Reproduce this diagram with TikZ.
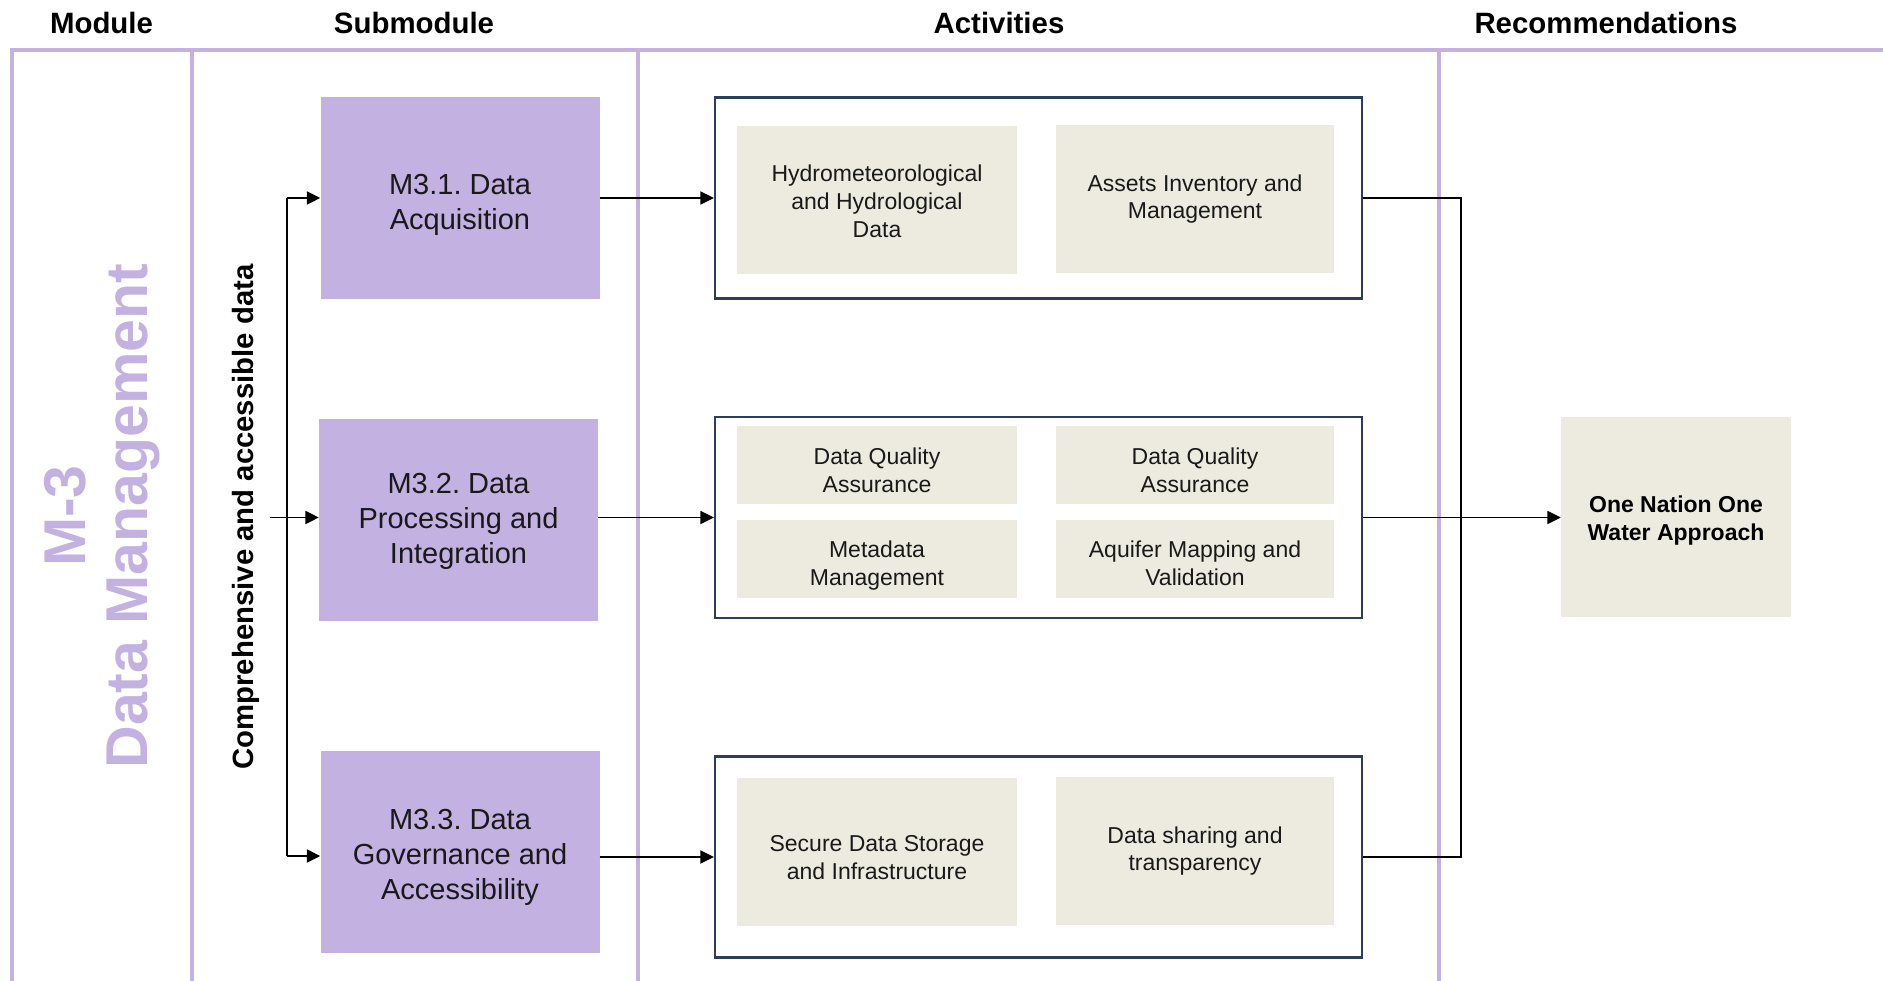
\documentclass[tikz,border=0pt]{standalone}
\usepackage{fontspec}
\setmainfont{Liberation Sans}
\frenchspacing
\usetikzlibrary{arrows.meta}
\definecolor{lav}{HTML}{C3B1E1}
\definecolor{beige}{HTML}{EDEBE0}
\definecolor{framec}{HTML}{2B3F5C}
\tikzset{
  hdr/.style={font=\fontsize{29.4}{34}\selectfont\bfseries, anchor=center},
  subbox/.style={fill=lav, minimum width=279pt, minimum height=202pt, inner sep=0pt},
  subtext/.style={align=center, font=\fontsize{29}{35}\selectfont, text=black!90},
  actframe/.style={draw=framec, line width=2.2pt, fill=white, minimum width=647pt, minimum height=201pt, inner sep=0pt},
  actbox/.style={fill=beige, inner sep=0pt},
  acttext/.style={align=center, font=\fontsize{23}{27.6}\selectfont, text=black!90},
  recbox/.style={fill=beige, minimum width=230pt, minimum height=200pt, inner sep=0pt},
  rectext/.style={align=center, font=\fontsize{23}{27.6}\selectfont\bfseries},
  colline/.style={draw=lav, line width=4pt},
  conn/.style={draw=black, line width=1.8pt},
  arr/.style={conn, -{Triangle[length=13.5pt,width=13pt]}}
}
\begin{document}
\begin{tikzpicture}[x=1pt,y=-1pt]
\useasboundingbox (0,0) rectangle (1883,981);
% headers
\node[hdr] (hmod) at (101.5,23) {Module};
\node[hdr] (hsub) at (414,23) {Submodule};
\node[hdr] (hact) at (999,23) {Activities};
\node[hdr] (hrec) at (1606,23) {Recommendations};
% grid lines
\draw[colline] (12,983) -- (12,50.5) -- (1885,50.5);
\draw[colline] (192,50.5) -- (192,983);
\draw[colline] (638,50.5) -- (638,983);
\draw[colline] (1439,50.5) -- (1439,983);
% module text
\node[rotate=90, text=lav, align=center, font=\fontsize{59}{62}\selectfont\bfseries] (modname) at (102,516) {M-3\\Data Management};
\node[rotate=90, font=\fontsize{29.3}{33}\selectfont\bfseries] (flowlabel) at (246,517) {Comprehensive and accessible data};
% submodules
\node[subbox, label={[subtext, yshift=-6.6pt]center:M3.1. Data\\Acquisition}] (m31) at (460,198) {};
\node[subbox, label={[subtext, yshift=-1.6pt]center:M3.2. Data\\Processing and\\Integration}] (m32) at (458.5,520) {};
\node[subbox, label={[subtext, yshift=-5pt]center:M3.3. Data\\Governance and\\Accessibility}] (m33) at (460,852) {};
% activity frames
\node[actframe] (f1) at (1038.5,198) {};
\node[actframe] (f2) at (1038.5,517.5) {};
\node[actframe] (f3) at (1038.5,857) {};
% activity boxes
\node[actbox, minimum width=280pt, minimum height=148pt, label={[acttext, yshift=-1.2pt]center:Hydrometeorological\\and Hydrological\\Data}] (a11) at (877,200) {};
\node[actbox, minimum width=278pt, minimum height=148pt, label={[acttext]center:Assets Inventory and\\Management}] (a12) at (1195,199) {};
\node[actbox, minimum width=280pt, minimum height=78pt, label={[acttext, yshift=-5.4pt]center:Data Quality\\Assurance}] (a21) at (877,465) {};
\node[actbox, minimum width=278pt, minimum height=78pt, label={[acttext, yshift=-5.4pt]center:Data Quality\\Assurance}] (a22) at (1195,465) {};
\node[actbox, minimum width=280pt, minimum height=78pt, label={[acttext, yshift=-6.6pt]center:Metadata\\Management}] (a23) at (877,559) {};
\node[actbox, minimum width=278pt, minimum height=78pt, label={[acttext, yshift=-4.2pt]center:Aquifer Mapping and\\Validation}] (a24) at (1195,559) {};
\node[actbox, minimum width=280pt, minimum height=148pt, label={[acttext, yshift=-5.4pt]center:Secure Data Storage\\and Infrastructure}] (a31) at (877,852) {};
\node[actbox, minimum width=278pt, minimum height=148pt, label={[acttext]center:Data sharing and\\transparency}] (a32) at (1195,851) {};
% recommendation
\node[recbox, label={[rectext, yshift=-3.6pt]center:One Nation One\\Water Approach}] (rec) at (1676,517) {};
% left bracket connectors
\coordinate (btop) at (287,198);
\coordinate (bbot) at (287,856);
\coordinate (bin) at (270,517.5);
\draw[conn] (btop) -- (bbot);
\draw[arr] (btop) -- (btop -| m31.west);
\draw[arr] (bbot) -- (bbot -| m33.west);
\draw[arr] (bin) -- (bin -| m32.west);
% submodule to activities
\draw[arr] (m31.east) -- (f1.west);
\draw[arr] (m32.east |- f2.west) -- (f2.west);
\draw[arr] (m33.east |- f3.west) -- (f3.west);
% activities to recommendation
\coordinate (jn) at (1461,517.5);
\draw[conn] (f1.east) -| (jn);
\draw[conn] (f3.east) -| (jn);
\draw[arr] (f2.east) -- (f2.east -| rec.west);
\end{tikzpicture}
\end{document}
